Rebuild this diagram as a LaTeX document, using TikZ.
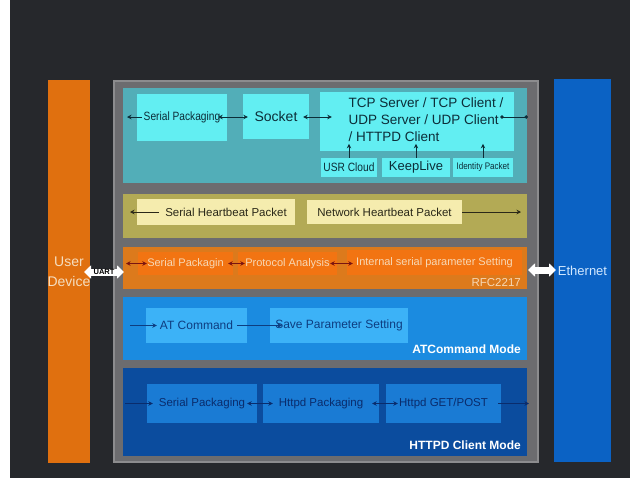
\documentclass[tikz,border=0pt]{standalone}
\usepackage{fontspec}
\setmainfont{Liberation Sans}
\newfontfamily\narrowsf[FakeStretch=0.85]{Liberation Sans}
\usetikzlibrary{positioning,arrows.meta}

\definecolor{bgdark}{HTML}{26282C}
\definecolor{udorange}{HTML}{E0700F}
\definecolor{udtext}{HTML}{F5DEC0}
\definecolor{framegray}{HTML}{6C6C6F}
\definecolor{framelight}{HTML}{8C8C8E}
\definecolor{ethblue}{HTML}{0B62C4}
\definecolor{ethtext}{HTML}{D2E8FF}
\definecolor{tealband}{HTML}{52AEB8}
\definecolor{cyanbox}{HTML}{62EEF2}
\definecolor{tealtext}{HTML}{0C2D38}
\definecolor{hbband}{HTML}{B3AA55}
\definecolor{hbbox}{HTML}{F5ECAE}
\definecolor{hbtext}{HTML}{2A2818}
\definecolor{rfcband}{HTML}{DC7A1C}
\definecolor{rfcbox}{HTML}{F27412}
\definecolor{rfctext}{HTML}{F7D8B5}
\definecolor{rfcarrow}{HTML}{7A1410}
\definecolor{atband}{HTML}{1B8BE0}
\definecolor{atbox}{HTML}{3CB2F7}
\definecolor{attext}{HTML}{0E3D80}
\definecolor{httpdband}{HTML}{0B4C9E}
\definecolor{httpdbox}{HTML}{1A7BD4}
\definecolor{httpdtext}{HTML}{0A2C6C}

\begin{document}
\begin{tikzpicture}[
  x=1pt, y=-1pt,
  bar/.style={rectangle, minimum width=#1, minimum height=383pt, inner sep=0pt, align=center},
  band/.style={rectangle, minimum width=404pt, inner sep=0pt},
  box/.style={rectangle, inner sep=0pt, align=center},
  tealbox/.style={box, fill=cyanbox, text=tealtext},
  hbboxst/.style={box, fill=hbbox, text=hbtext, font=\fontsize{11.5}{13}\selectfont},
  rfcboxst/.style={box, fill=rfcbox, text=rfctext, minimum height=23pt, font=\fontsize{11}{13}\selectfont},
  atboxst/.style={box, fill=atbox, text=attext, minimum height=35pt, font=\fontsize{12}{14}\selectfont},
  httpdboxst/.style={box, fill=httpdbox, text=httpdtext, minimum height=39pt, font=\fontsize{11.5}{13}\selectfont},
  feed/.style={-{Stealth[length=4.5pt,width=4.5pt]}, line width=0.8pt},
  link/.style={{Stealth[length=4.5pt,width=4.5pt]}-{Stealth[length=4.5pt,width=4.5pt]}, line width=0.8pt},
  dots/.style={{Circle[length=3.5pt]}-{Circle[length=3.5pt]}, line width=0.8pt},
  wide/.style={{Triangle[length=7pt,width=13pt]}-{Triangle[length=7pt,width=13pt]}, line width=7pt, white},
  modelabel/.style={anchor=east, text=white, inner sep=0pt, font=\bfseries\fontsize{12}{14}\selectfont}
]

% === Background ===
\fill[white] (0,0) rectangle (640,480);
\fill[bgdark] (10,0) rectangle (630,478);

% === Side bars and frame ===
\node[bar=42pt, fill=udorange, text=udtext, font=\fontsize{14}{20}\selectfont] (userdev) at (69,271.5) {User\\Device};
\node[rectangle, minimum width=424pt, minimum height=381pt, fill=framegray, draw=framelight, line width=1.5pt] (frame) at (326,271.5) {};
\node[bar=57pt, fill=ethblue, text=ethtext, font=\fontsize{13}{15}\selectfont] (ethbar) at (582.5,270.5) {Ethernet};

% === Network layer ===
\node[band, minimum height=95pt, fill=tealband] (netband) at (325,135.5) {};
\node[tealbox, minimum width=90pt, minimum height=47pt, font=\narrowsf\fontsize{12}{14}\selectfont] (spack) at (182,117.5) {Serial Packaging};
\node[tealbox, minimum width=66pt, minimum height=45pt, font=\fontsize{14}{16}\selectfont] (socket) at (276,116.5) {Socket};
\node[tealbox, minimum width=194pt, minimum height=59pt] (tcp) at (417,121.5) {};
\node[text=tealtext, align=left, inner sep=0pt, font=\fontsize{13.5}{17}\selectfont] (tcptext) at (426,120) {TCP Server / TCP Client /\\UDP Server / UDP Client\\/ HTTPD Client};
\node[tealbox, minimum width=56pt, minimum height=19pt, font=\narrowsf\fontsize{12}{14}\selectfont] (usr) at (349,167.5) {USR Cloud};
\node[tealbox, minimum width=68pt, minimum height=19pt, font=\fontsize{13}{15}\selectfont] (keep) at (416,167.5) {KeepLive};
\node[tealbox, minimum width=60pt, minimum height=19pt, font=\narrowsf\fontsize{9.5}{11}\selectfont] (ident) at (483,167.5) {Identity Packet};

\coordinate (netL) at (127,117);
\coordinate (netR) at (528,117);
\draw[feed, tealtext] ([xshift=5pt]spack.west |- netL) -- (netL);
\draw[link, tealtext] ([xshift=-9pt]spack.east |- netL) -- ([xshift=5pt]socket.west |- netL);
\draw[link, tealtext] ([xshift=-6pt]socket.east |- netL) -- ([xshift=12pt]tcp.west |- netL);
\draw[dots, tealtext] ([xshift=-14pt]tcp.east |- netR) -- (netR);
\foreach \n in {usr,keep,ident}
  \draw[feed, tealtext] (\n.north) -- ++(0,-14);

% === Heartbeat layer ===
\node[band, minimum height=44pt, fill=hbband] (hbband) at (325,216) {};
\node[hbboxst, minimum width=158pt, minimum height=26pt] (shb) at (216,212) {};
\node[text=hbtext, inner sep=0pt, font=\fontsize{11.5}{13}\selectfont] (shbtext) at (226,212) {Serial Heartbeat Packet};
\node[hbboxst, minimum width=155pt, minimum height=24pt] (nhb) at (384.5,212) {Network Heartbeat Packet};
\coordinate (hbL) at (130,212);
\coordinate (hbR) at (521,212);
\draw[feed, hbtext] ([xshift=-6pt]shbtext.west) -- (hbL);
\draw[feed, hbtext] (nhb.east) -- (hbR);

% === RFC2217 layer ===
\node[band, minimum height=42pt, fill=rfcband] (rfcband) at (325,268) {};
\node[rfcboxst, minimum width=95pt] (sp2) at (185.5,263.5) {Serial Packagin};
\node[rfcboxst, minimum width=99pt] (pa) at (287.5,263.5) {Protocol Analysis};
\node[rfcboxst, minimum width=175pt, minimum height=25pt] (isp) at (434.5,262.5) {Internal serial parameter Setting};
\node[anchor=east, text=rfctext, inner sep=0pt, font=\fontsize{11.5}{13}\selectfont] (rfclabel) at (521,283) {RFC2217};
\coordinate (rfcL) at (126,263.5);
\draw[link, rfcarrow] (rfcL) -- ([xshift=9pt]sp2.west);
\draw[link, rfcarrow] ([xshift=-5pt]sp2.east) -- ([xshift=7pt]pa.west);
\draw[link, rfcarrow] ([xshift=-7pt]pa.east |- rfcL) -- ([xshift=6pt]isp.west |- rfcL);

% === UART and Ethernet links ===
\coordinate (uartL) at (84,272);
\coordinate (uartR) at (124,272);
\draw[wide] (uartL) -- (uartR)
  node[midway, text=black, inner sep=0pt, font=\bfseries\fontsize{7.5}{8}\selectfont] (uart) {UART};
\coordinate (ethL) at (528,270);
\coordinate (ethR) at (556,270);
\draw[wide] (ethL) -- (ethR);

% === ATCommand layer ===
\node[band, minimum height=63pt, fill=atband] (atband) at (325,328.5) {};
\node[atboxst, minimum width=101pt] (atc) at (196.5,325.5) {AT Command};
\node[atboxst, minimum width=138pt] (save) at (339,325.5) {Save Parameter Setting};
\node[modelabel] (atlabel) at (521,349) {ATCommand Mode};
\coordinate (atL) at (130,325.5);
\draw[feed, attext] (atL) -- ([xshift=11pt]atc.west);
\draw[feed, attext] ([xshift=-10pt]atc.east) -- ([xshift=12pt]save.west);

% === HTTPD client layer ===
\node[band, minimum height=88pt, fill=httpdband] (httpdband) at (325,412) {};
\node[httpdboxst, minimum width=110pt] (hsp) at (202,403.5) {Serial Packaging};
\node[httpdboxst, minimum width=116pt] (hpk) at (321,403.5) {Httpd Packaging};
\node[httpdboxst, minimum width=115pt] (hgp) at (443.5,403.5) {Httpd GET/POST};
\node[modelabel] (hlabel) at (521,445) {HTTPD Client Mode};
\coordinate (hL) at (125,403.5);
\coordinate (hR) at (529,403.5);
\draw[feed, httpdtext] (hL) -- ([xshift=6pt]hsp.west);
\draw[link, httpdtext] ([xshift=-10pt]hsp.east) -- ([xshift=10pt]hpk.west);
\draw[link, httpdtext] ([xshift=-7pt]hpk.east) -- ([xshift=12pt]hgp.west);
\draw[feed, httpdtext] ([xshift=-3pt]hgp.east) -- (hR);

\end{tikzpicture}
\end{document}
